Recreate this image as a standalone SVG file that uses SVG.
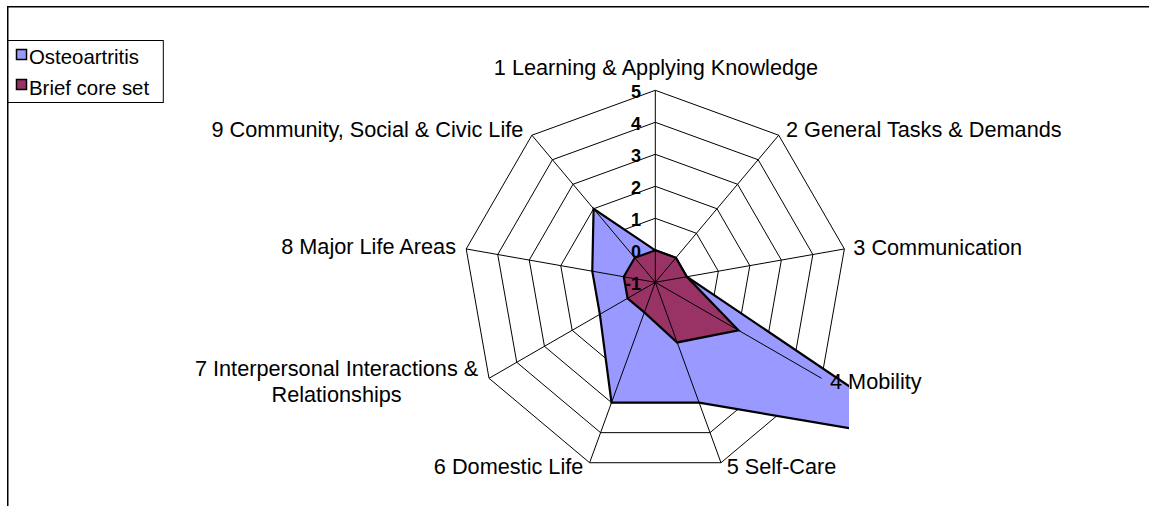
<svg xmlns="http://www.w3.org/2000/svg" width="1149" height="506" viewBox="0 0 1149 506">
<style>
.ring{fill:none;stroke:#000;stroke-width:1}
.spoke{stroke:#000;stroke-width:1}
.ser{stroke:#000;stroke-width:2.2;stroke-linejoin:miter}
.osteo{fill:#9999FF}
.brief{fill:#993366}
.cat{font-family:"Liberation Sans",Arial,sans-serif;font-size:21.7px;fill:#000}
.tick{font-family:"Liberation Sans",Arial,sans-serif;font-size:18px;font-weight:bold;fill:#000;text-anchor:end}
.leg{font-family:"Liberation Sans",Arial,sans-serif;font-size:20.4px;fill:#000}
</style>
<defs>
<clipPath id="plotClip"><rect x="0" y="0" width="849" height="506"/></clipPath>
</defs>
<rect x="0" y="0" width="1149" height="506" fill="#fff"/>
<path d="M7.75,506 V6.75 H1149" fill="none" stroke="#000" stroke-width="1.5"/>

<g id="grid-rings">
<polygon class="ring" points="655.3,250.3 675.87,257.79 686.81,276.74 683.01,298.3 666.24,312.37 644.36,312.37 627.59,298.3 623.79,276.74 634.73,257.79"/>
<polygon class="ring" points="655.3,218.3 696.44,233.27 718.33,271.19 710.73,314.3 677.19,342.44 633.41,342.44 599.87,314.3 592.27,271.19 614.16,233.27"/>
<polygon class="ring" points="655.3,186.3 717.01,208.76 749.84,265.63 738.44,330.3 688.13,372.51 622.47,372.51 572.16,330.3 560.76,265.63 593.59,208.76"/>
<polygon class="ring" points="655.3,154.3 737.58,184.25 781.35,260.07 766.15,346.3 699.08,402.58 611.52,402.58 544.45,346.3 529.25,260.07 573.02,184.25"/>
<polygon class="ring" points="655.3,122.3 758.15,159.73 812.87,254.52 793.86,362.3 710.02,432.65 600.58,432.65 516.74,362.3 497.73,254.52 552.45,159.73"/>
<polygon class="ring" points="655.3,90.3 778.72,135.22 844.38,248.96 821.58,378.3 720.97,462.72 589.63,462.72 489.02,378.3 466.22,248.96 531.88,135.22"/>
</g>

<g id="series-osteoartritis" clip-path="url(#plotClip)">
<polygon class="osteo ser" points="655.3,250.3 675.87,257.79 686.81,276.74 932.43,442.3 699.08,402.58 611.52,402.58 599.87,314.3 592.27,271.19 593.59,208.76"/>
</g>
<g id="series-brief-core-set">
<polygon class="brief ser" points="655.3,250.3 675.87,257.79 686.81,276.74 738.44,330.3 677.19,342.44 644.36,312.37 627.59,298.3 623.79,276.74 634.73,257.79"/>
</g>

<g id="connectors">
<line class="spoke" x1="655.3" y1="282.3" x2="655.3" y2="90.3"/>
<line class="spoke" x1="655.3" y1="282.3" x2="778.72" y2="135.22"/>
<line class="spoke" x1="655.3" y1="282.3" x2="844.38" y2="248.96"/>
<line class="spoke" x1="655.3" y1="282.3" x2="821.58" y2="378.3"/>
<line class="spoke" x1="655.3" y1="282.3" x2="720.97" y2="462.72"/>
<line class="spoke" x1="655.3" y1="282.3" x2="589.63" y2="462.72"/>
<line class="spoke" x1="655.3" y1="282.3" x2="489.02" y2="378.3"/>
<line class="spoke" x1="655.3" y1="282.3" x2="466.22" y2="248.96"/>
<line class="spoke" x1="655.3" y1="282.3" x2="531.88" y2="135.22"/>
</g>

<g id="tick-labels">
<text class="tick" x="641" y="97.8">5</text>
<text class="tick" x="641" y="129.8">4</text>
<text class="tick" x="641" y="161.8">3</text>
<text class="tick" x="641" y="193.8">2</text>
<text class="tick" x="641" y="225.8">1</text>
<text class="tick" x="641" y="257.8">0</text>
<text class="tick" x="641" y="289.8">-1</text>
</g>

<g id="axis-1"><text class="cat" x="656" y="75" text-anchor="middle">1 Learning &amp; Applying Knowledge</text></g>
<g id="axis-2"><text class="cat" x="786" y="136.7">2 General Tasks &amp; Demands</text></g>
<g id="axis-3"><text class="cat" x="853.3" y="255">3 Communication</text></g>
<g id="axis-4"><text class="cat" x="830" y="389">4 Mobility</text></g>
<g id="axis-5"><text class="cat" x="726.7" y="474">5 Self-Care</text></g>
<g id="axis-6"><text class="cat" x="583.3" y="474" text-anchor="end">6 Domestic Life</text></g>
<g id="axis-7"><text class="cat" x="336.6" y="376" text-anchor="middle">7 Interpersonal Interactions &amp;</text><text class="cat" x="336.6" y="401.7" text-anchor="middle">Relationships</text></g>
<g id="axis-8"><text class="cat" x="456" y="254" text-anchor="end">8 Major Life Areas</text></g>
<g id="axis-9"><text class="cat" x="523.3" y="137.3" text-anchor="end">9 Community, Social &amp; Civic Life</text></g>

<g id="legend">
<rect x="8" y="40.5" width="155.3" height="62" fill="#fff" stroke="#000" stroke-width="1"/>
<rect x="16.5" y="49.5" width="10" height="10" class="osteo" stroke="#000" stroke-width="1.5"/>
<text class="leg" x="29" y="63.5">Osteoartritis</text>
<rect x="16.5" y="79.5" width="10" height="10" class="brief" stroke="#000" stroke-width="1.5"/>
<text class="leg" x="29" y="95">Brief core set</text>
</g>
</svg>
